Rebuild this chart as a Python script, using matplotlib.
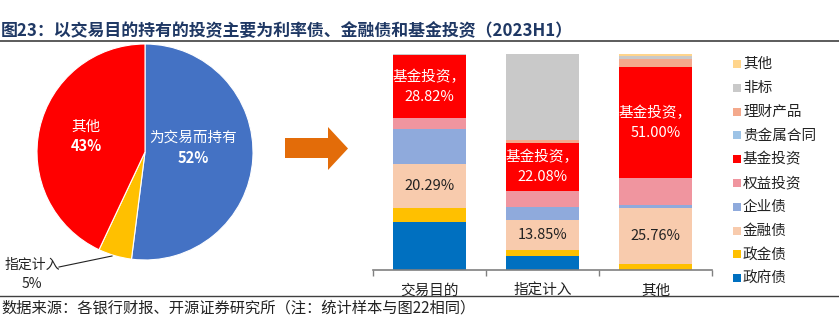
import matplotlib
matplotlib.use("Agg")
import matplotlib.pyplot as plt
from matplotlib.patches import Polygon, Rectangle
import numpy as np

plt.rcParams['font.family'] = ['Noto Sans CJK SC', 'DejaVu Sans']

W, H = 839, 326

# ---------------- data ----------------
title = "图23：以交易目的持有的投资主要为利率债、金融债和基金投资（2023H1）"
source = "数据来源：各银行财报、开源证券研究所（注：统计样本与图22相同）"

pie_labels = ["为交易而持有", "指定计入", "其他"]
pie_values = [52, 5, 43]
pie_colors = ["#4472C4", "#FFC000", "#FF0000"]

bar_cats = ["交易目的", "指定计入", "其他"]
series = ["政府债", "政金债", "金融债", "企业债", "权益投资", "基金投资",
          "贵金属合同", "理财产品", "非标", "其他"]
s_gov = [22.3, 6.4, 0.0]
s_policy = [6.6, 2.75, 2.9]
s_fin = [20.29, 13.85, 25.76]
s_corp = [16.3, 6.1, 1.5]
s_equity = [5.0, 7.7, 12.6]
s_fund = [28.82, 22.08, 51.00]
s_metal = [0.0, 0.0, 0.0]
s_wealth = [0.0, 1.1, 4.0]
s_nonstd = [0.6, 40.02, 1.4]
s_other = [0.09, 0.0, 0.84]
series_values = [s_gov, s_policy, s_fin, s_corp, s_equity, s_fund,
                 s_metal, s_wealth, s_nonstd, s_other]
series_colors = ["#0070C0", "#FFC000", "#F8CBAD", "#8FAADC", "#F0959F",
                 "#FF0000", "#9DC3E6", "#F4A98C", "#C9C9C9", "#FFD58C"]

# ---------------- figure ----------------
fig = plt.figure(figsize=(W / 100, H / 100), dpi=100)

def fx(x):
    return x / W

def fy(y):
    return 1 - y / H

# title and lines
fig.text(fx(1), fy(31), title, fontsize=12.2, fontweight='bold',
         color='#1F3864', va='center', ha='left')
fig.add_artist(plt.Line2D([0, 1], [fy(41), fy(41)], color='#404040', lw=1.2))
fig.add_artist(plt.Line2D([0, 1], [fy(296), fy(296)], color='#404040', lw=1.0))
fig.text(fx(1), fy(308), source, fontsize=11, color='#222222',
         va='center', ha='left')

# ---------------- pie ----------------
cx, cy, r = 145, 152, 108
axp = fig.add_axes([fx(cx - r), fy(cy + r), 2 * r / W, 2 * r / H])
wedges, _ = axp.pie(pie_values, colors=pie_colors, startangle=90,
                    counterclock=False, radius=1,
                    wedgeprops=dict(edgecolor='white', linewidth=0.8))
axp.set_xlim(-1, 1)
axp.set_ylim(-1, 1)
axp.set_aspect('equal')
axp.axis('off')

fig.text(fx(193), fy(138), pie_labels[0], fontsize=10.5, color='white',
         ha='center', va='center')
fig.text(fx(193), fy(158), f"{pie_values[0]}%", fontsize=10.5, color='white',
         ha='center', va='center', fontweight='bold')
fig.text(fx(86), fy(127), pie_labels[2], fontsize=10.5, color='white',
         ha='center', va='center')
fig.text(fx(86), fy(146), f"{pie_values[2]}%", fontsize=10.5, color='white',
         ha='center', va='center', fontweight='bold')
fig.text(fx(32), fy(265), pie_labels[1], fontsize=10, color='#222222',
         ha='center', va='center')
fig.text(fx(32), fy(284), f"{pie_values[1]}%", fontsize=10, color='#222222',
         ha='center', va='center')
fig.add_artist(plt.Line2D([fx(59), fx(112)], [fy(267), fy(256)],
                          color='#222222', lw=0.8))

# ---------------- arrow ----------------
arrow_px = [(285, 138), (328, 138), (328, 127), (348, 148.5),
            (328, 170), (328, 158), (285, 158)]
fig.add_artist(Polygon([(fx(x), fy(y)) for x, y in arrow_px], closed=True,
                       facecolor='#E36C09', edgecolor='none',
                       transform=fig.transFigure))

# ---------------- stacked bars ----------------
axb = fig.add_axes([fx(373), fy(270), (712 - 373) / W, (270 - 54) / H])
x = np.arange(len(bar_cats))
bottom = np.zeros(len(bar_cats))
for vals, col, name in zip(series_values, series_colors, series):
    axb.bar(x, vals, bottom=bottom, width=0.646, color=col, label=name,
            linewidth=0)
    bottom = bottom + np.array(vals)
axb.set_xlim(-0.5, 2.5)
axb.set_ylim(0, 100)
for sp in ['top', 'right', 'left']:
    axb.spines[sp].set_visible(False)
axb.spines['bottom'].set_color('#808080')
axb.spines['bottom'].set_linewidth(1.2)
axb.set_yticks([])
axb.set_xticks(x)
axb.set_xticklabels(bar_cats, fontsize=10.5, color='#222222')
axb.tick_params(axis='x', which='major', length=0, pad=10)
axb.set_xticks([-0.5, 0.5, 1.5, 2.5], minor=True)
axb.tick_params(axis='x', which='minor', length=4, width=1, color='#808080',
                direction='out')

# value labels
cum = np.cumsum(np.array(series_values), axis=0)
fund_idx = series.index("基金投资")
fin_idx = series.index("金融债")
for i in range(len(bar_cats)):
    f_top = cum[fund_idx][i]
    f_mid = f_top - s_fund[i] / 2
    axb.text(x[i], f_mid, f"基金投资，\n{s_fund[i]:.2f}%", color='white',
             fontsize=10.5, ha='center', va='center', linespacing=1.5)
    m_top = cum[fin_idx][i]
    m_mid = m_top - s_fin[i] / 2
    axb.text(x[i], m_mid, f"{s_fin[i]:.2f}%", color='#222222',
             fontsize=10.5, ha='center', va='center')

# ---------------- legend (manual) ----------------
y0, dy = 64, 23.8
for k, (name, col) in enumerate(zip(series[::-1], series_colors[::-1])):
    yy = y0 + k * dy
    fig.add_artist(Rectangle((fx(733), fy(yy + 4)), 8 / W, 8 / H,
                             facecolor=col, edgecolor='none',
                             transform=fig.transFigure))
    fig.text(fx(743), fy(yy), name, fontsize=10.5, color='#222222',
             ha='left', va='center')

fig.savefig("out.png", dpi=100)
